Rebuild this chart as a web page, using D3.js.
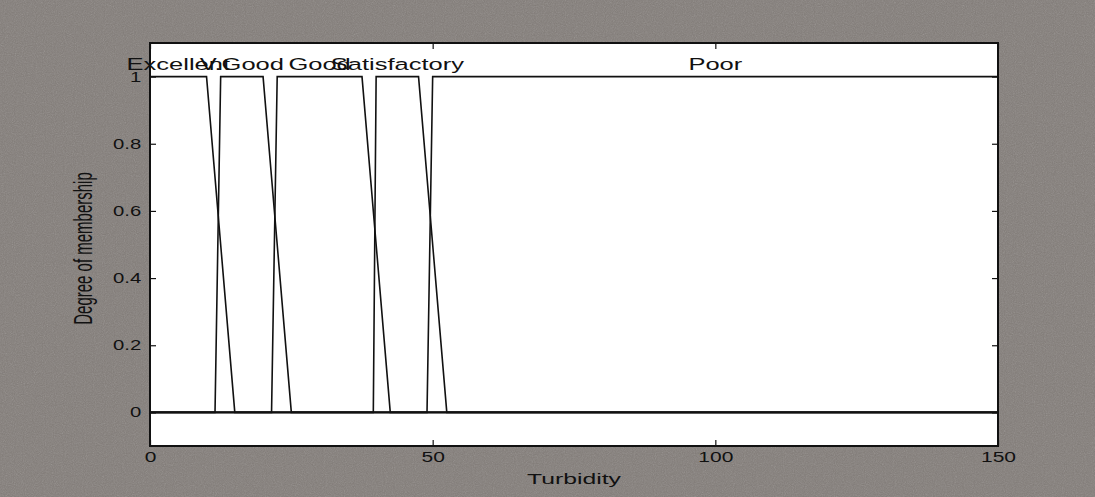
<!DOCTYPE html>
<html>
<head>
<meta charset="utf-8">
<script src="https://cdn.jsdelivr.net/npm/d3@7"></script>
<style>
  html, body { margin: 0; padding: 0; background: #857f7b; }
  text { font-family: "Liberation Sans", Arial, sans-serif; fill: #111; }
</style>
</head>
<body>
<div id="chart"></div>
<script>
// membership functions for turbidity (trapezoids a, b, c, d)
var mfNames = ["Excellent", "V.Good", "Good", "Satisfactory", "Poor"];
var mfParams = [
  [0, 0, 10, 15],
  [11.5, 12.5, 20, 25],
  [21.5, 22.5, 37.5, 42.5],
  [39.5, 40, 47.5, 52.5],
  [49, 50, 150, 150]
];
var xTicks = [0, 50, 100, 150];
var yTicks = [0, 0.2, 0.4, 0.6, 0.8, 1];
var xRange = [0, 150];
var yRange = [-0.1, 1.1];

;(function(){
var width = 1095, height = 497;
var pl = 150, pr = 998, pt = 43, pb = 446;
var stretch = 1.5; // scanned picture is wide, text looks stretched

var svg = d3.select("#chart").append("svg")
    .attr("width", width)
    .attr("height", height)
    .style("display", "block");

// grainy gray paper
var defs = svg.append("defs");
var noise = defs.append("filter").attr("id", "grain")
    .attr("x", 0).attr("y", 0).attr("width", "100%").attr("height", "100%");
noise.append("feTurbulence")
    .attr("type", "fractalNoise")
    .attr("baseFrequency", 0.9)
    .attr("numOctaves", 2)
    .attr("seed", 3);
noise.append("feColorMatrix")
    .attr("type", "matrix")
    .attr("values", "0.33 0.33 0.33 0 0  0.33 0.33 0.33 0 0  0.33 0.33 0.33 0 0  0 0 0 0.3 0");

svg.append("rect")
    .attr("width", width).attr("height", height)
    .attr("fill", "#817b77");
svg.append("rect")
    .attr("width", width).attr("height", height)
    .attr("filter", "url(#grain)");

var x = d3.scaleLinear().domain(xRange).range([pl, pr]);
var y = d3.scaleLinear().domain(yRange).range([pb, pt]);

svg.append("rect")
    .attr("x", pl).attr("y", pt)
    .attr("width", pr - pl).attr("height", pb - pt)
    .attr("fill", "#fff");

var trap = function(v, p){
  var a = p[0], b = p[1], c = p[2], d = p[3];
  if (v < a || v > d) return 0;
  if (v >= b && v <= c) return 1;
  if (v < b) return (v - a) / (b - a);
  return (d - v) / (d - c);
};

var line = d3.line()
    .x(function(d){ return x(d[0]); })
    .y(function(d){ return y(d[1]); });

var curves = svg.append("g");
mfParams.forEach(function(p){
  var xs = [xRange[0], p[0], p[1], p[2], p[3], xRange[1]];
  var pts = xs.map(function(v){ return [v, trap(v, p)]; });
  curves.append("path")
      .attr("d", line(pts))
      .attr("fill", "none")
      .attr("stroke", "#111")
      .attr("stroke-width", 1.6);
});

// labels above each plateau
var labels = svg.append("g");
mfParams.forEach(function(p, i){
  var cx = x((p[1] + p[2]) / 2);
  labels.append("text")
      .attr("transform", "translate(" + cx + "," + (y(1) - 7) + ") scale(" + stretch + ",1)")
      .attr("text-anchor", "middle")
      .attr("font-size", 17)
      .text(mfNames[i]);
});

// axes with ticks pointing inward on all four sides
var styleAxis = function(g){
  g.select(".domain").remove();
  g.selectAll("line").attr("stroke", "#111").attr("stroke-width", 1.2);
};

svg.append("g")
    .attr("transform", "translate(0," + pb + ")")
    .call(d3.axisBottom(x).tickValues(xTicks).tickSize(-6).tickPadding(6))
    .call(styleAxis)
    .call(function(g){
      g.selectAll("text").attr("font-size", 14).attr("fill", "#111")
          .attr("transform", "scale(1.5,1)");
    });

svg.append("g")
    .attr("transform", "translate(0," + pt + ")")
    .call(d3.axisTop(x).tickValues(xTicks).tickSize(-6).tickFormat(""))
    .call(styleAxis);

svg.append("g")
    .attr("transform", "translate(" + pl + ",0)")
    .call(d3.axisLeft(y).tickValues(yTicks).tickSize(-6).tickPadding(6)
        .tickFormat(function(d){ return d === 0 || d === 1 ? d : d3.format(".1f")(d); }))
    .call(styleAxis)
    .call(function(g){
      g.selectAll("text").attr("font-size", 14).attr("fill", "#111")
          .attr("transform", "scale(1.45,1)");
    });

svg.append("g")
    .attr("transform", "translate(" + pr + ",0)")
    .call(d3.axisRight(y).tickValues(yTicks).tickSize(-6).tickFormat(""))
    .call(styleAxis);

// frame
svg.append("rect")
    .attr("x", pl).attr("y", pt)
    .attr("width", pr - pl).attr("height", pb - pt)
    .attr("fill", "none")
    .attr("stroke", "#111")
    .attr("stroke-width", 2);

svg.append("text")
    .attr("transform", "translate(" + ((pl + pr) / 2) + ",484) scale(1.65,1)")
    .attr("text-anchor", "middle")
    .attr("font-size", 15)
    .text("Turbidity");

svg.append("text")
    .attr("transform", "translate(92," + ((pt + pb) / 2 + 4) + ") scale(1.7,1) rotate(-90)")
    .attr("text-anchor", "middle")
    .attr("font-size", 15)
    .text("Degree of membership");
})();
</script>
</body>
</html>
